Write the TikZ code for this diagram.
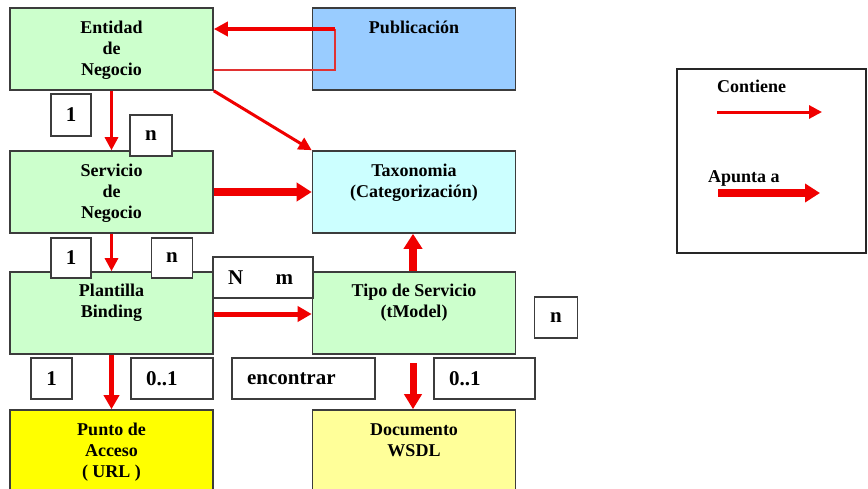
\documentclass[tikz,border=0pt]{standalone}
\usepackage{fontspec}
\setmainfont{Liberation Serif}
\usetikzlibrary{arrows.meta}

\definecolor{entgreen}{RGB}{204,255,204}
\definecolor{pubblue}{RGB}{153,204,255}
\definecolor{taxcyan}{RGB}{204,255,255}
\definecolor{urlyellow}{RGB}{255,255,0}
\definecolor{wsdlyellow}{RGB}{255,255,153}
\definecolor{edge}{RGB}{60,60,60}
\definecolor{arrowred}{RGB}{240,0,0}
\definecolor{thinred}{RGB}{225,50,50}

\tikzset{
  box/.style={draw=edge, line width=1.6pt, minimum width=203pt,
    minimum height=82pt, inner sep=0pt},
  boxtext/.style={anchor=north, inner sep=0pt, align=center,
    font=\fontsize{18}{21}\selectfont\bfseries},
  tag/.style={draw=edge, fill=white, line width=1.3pt, inner sep=0pt,
    font=\fontsize{21}{24}\selectfont\bfseries},
  contains/.style={draw=arrowred, line width=3pt,
    -{Triangle[length=13pt,width=13pt]}},
  points/.style={draw=arrowred, line width=8pt,
    -{Triangle[length=15pt,width=18pt]}},
  medium/.style={draw=arrowred, line width=5pt,
    -{Triangle[length=14pt,width=15pt]}},
}

\begin{document}
\begin{tikzpicture}[x=1pt, y=-1pt]
\useasboundingbox (0,0) rectangle (868,488);
\clip (0,0) rectangle (868,488);
\fill[white] (0,0) rectangle (868,488);

% main entity boxes
\node[box, fill=entgreen]   (ent) at (111.5,49)  {};
\node[box, fill=pubblue]    (pub) at (414,49)    {};
\node[box, fill=entgreen]   (ser) at (111.5,192) {};
\node[box, fill=taxcyan]    (tax) at (414,192)   {};
\node[box, fill=entgreen]   (pla) at (111.5,313) {};
\node[box, fill=entgreen]   (tip) at (414,313)   {};
\node[box, fill=urlyellow, minimum height=100pt]  (url)  at (111.5,460) {};
\node[box, fill=wsdlyellow, minimum height=100pt] (wsdl) at (414,460)   {};

% box captions (yshift is in page space, negative moves down)
\node[boxtext] (entT)  at ([yshift=-11pt]ent.north)  {\strut Entidad\\de\\Negocio};
\node[boxtext] (pubT)  at ([yshift=-11pt]pub.north)  {\strut Publicación};
\node[boxtext] (serT)  at ([yshift=-11pt]ser.north)  {\strut Servicio\\de\\Negocio};
\node[boxtext] (taxT)  at ([yshift=-11pt]tax.north)  {\strut Taxonomia\\(Categorización)};
\node[boxtext] (plaT)  at ([yshift=-10pt]pla.north)  {\strut Plantilla\\Binding};
\node[boxtext] (tipT)  at ([yshift=-10pt]tip.north)  {\strut Tipo de Servicio\\(tModel)};
\node[boxtext] (urlT)  at ([yshift=-11pt]url.north)  {\strut Punto de\\Acceso\\( URL )};
\node[boxtext] (wsdlT) at ([yshift=-11pt]wsdl.north) {\strut Documento\\WSDL};

% connectors
\coordinate (pubIn)  at (335,29);
\coordinate (pubBot) at (335,70);
\draw[draw=thinred, line width=1.5pt] (pubIn) -- (pubBot) -- (pubBot -| ent.east);
\draw[draw=arrowred, line width=4pt, -{Triangle[length=14pt,width=14pt]}]
  (pubIn) -- (pubIn -| ent.east);

\draw[contains] (ent.south) -- (ser.north);
\draw[contains] (ent.south east) -- (tax.north west);
\draw[points]   (ser.east |- 0,192) -- (tax.west |- 0,192);
\draw[contains] (ser.south) -- (pla.north);
\draw[medium]   (pla.east |- 0,314) -- (tip.west |- 0,314);
\draw[points]   (tip.north -| 413,0) -- (tax.south -| 413,0);
\draw[medium]   (pla.south) -- (url.north);
\coordinate (tipOut) at (413,363);
\draw[draw=arrowred, line width=7pt, -{Triangle[length=15pt,width=17pt]}]
  (tipOut) -- (tipOut |- wsdl.north);

% multiplicity tags
\node[tag, minimum width=40pt, minimum height=42pt] (m1) at (71,115)    {1};
\node[tag, minimum width=42pt, minimum height=41pt] (m2) at (151,135.5) {n};
\node[tag, minimum width=40pt, minimum height=40pt] (m3) at (71,258)    {1};
\node[tag, minimum width=41pt, minimum height=40pt] (m4) at (172,258)   {n};
\node[tag, minimum width=100pt, minimum height=41pt, text width=70pt, align=left]
  (m5) at (263,277.5) {N\hspace{1.55em}m};
\node[tag, minimum width=43pt, minimum height=41pt] (m6) at (556,317.5) {n};
\node[tag, minimum width=41pt, minimum height=41pt] (m7) at (51.5,378.5) {1};
\node[tag, minimum width=82pt, minimum height=41pt, text width=52pt, align=left]
  (m8) at (172,378.5) {0..1};
\node[tag, minimum width=143pt, minimum height=41pt, text width=113pt, align=left]
  (m9) at (303.5,378.5) {encontrar};
\node[tag, minimum width=101pt, minimum height=41pt, text width=71pt, align=left]
  (m10) at (484.5,378.5) {0..1};

% legend
\node[draw=black!85, fill=white, line width=1.5pt, minimum width=189pt,
  minimum height=184pt, inner sep=0pt] (leg) at (771.5,161) {};
\node[anchor=base west, inner sep=0pt, font=\fontsize{18}{21}\selectfont\bfseries]
  (legC) at (717,92) {Contiene};
\node[anchor=base west, inner sep=0pt, font=\fontsize{18}{21}\selectfont\bfseries]
  (legA) at (708,182) {Apunta a};
\coordinate (cS) at (717,112);
\coordinate (cE) at (822,112);
\coordinate (aS) at (718,193);
\coordinate (aE) at (820,193);
\draw[contains] (cS) -- (cE);
\draw[points] (aS) -- (aE);
\end{tikzpicture}
\end{document}
